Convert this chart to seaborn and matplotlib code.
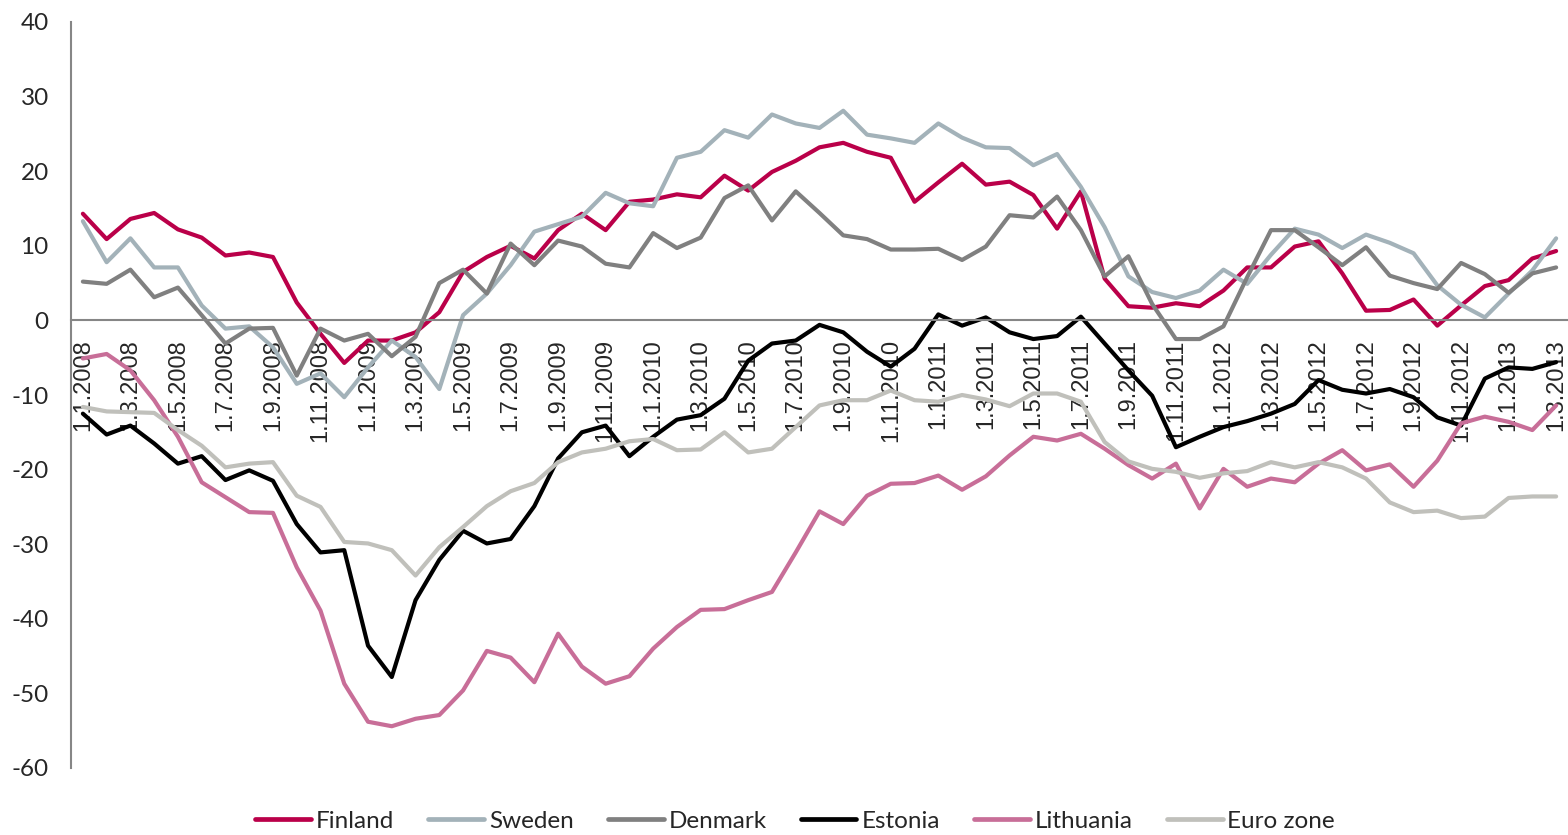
import pandas as pd
import matplotlib.pyplot as plt
from matplotlib.lines import Line2D
from matplotlib.ticker import FixedLocator
import seaborn as sns

# monthly survey balance, 1.1.2008 - 1.3.2013
months = [f"1.{d.month}.{d.year}"
          for d in pd.date_range('2008-01-01', '2013-03-01', freq='MS')]

finland = [14.3, 10.9, 13.6, 14.4, 12.2, 11.1, 8.7, 9.1, 8.5, 2.4,
           -1.8, -5.7, -2.7, -2.7, -1.6, 1.1, 6.5, 8.5, 10.0, 8.3,
           12.1, 14.3, 12.1, 15.9, 16.2, 16.9, 16.5, 19.4, 17.4, 19.9,
           21.4, 23.2, 23.8, 22.6, 21.8, 15.9, 18.5, 21.0, 18.2, 18.6,
           16.8, 12.3, 17.3, 5.6, 1.9, 1.7, 2.3, 1.9, 4.0, 7.1,
           7.1, 9.9, 10.6, 6.3, 1.3, 1.4, 2.8, -0.7, 2.0, 4.6,
           5.4, 8.3, 9.3]
sweden = [13.3, 7.8, 11.0, 7.1, 7.1, 2.0, -1.1, -0.8, -3.6, -8.5,
          -7.1, -10.3, -6.3, -2.7, -4.9, -9.2, 0.7, 3.6, 7.4, 11.9,
          12.9, 13.9, 17.1, 15.7, 15.3, 21.8, 22.6, 25.5, 24.5, 27.6,
          26.4, 25.8, 28.1, 24.9, 24.4, 23.8, 26.4, 24.5, 23.2, 23.1,
          20.8, 22.3, 17.9, 12.5, 5.9, 3.8, 3.0, 4.0, 6.8, 4.9,
          8.8, 12.3, 11.5, 9.7, 11.5, 10.4, 9.0, 4.7, 2.1, 0.4,
          3.6, 6.7, 11.0]
denmark = [5.2, 4.9, 6.8, 3.1, 4.4, 0.7, -3.1, -1.1, -1.0, -7.4,
           -1.1, -2.7, -1.8, -4.8, -2.2, 5.0, 6.8, 3.6, 10.3, 7.4,
           10.7, 9.9, 7.6, 7.1, 11.7, 9.7, 11.1, 16.4, 18.1, 13.4,
           17.3, 14.4, 11.4, 10.9, 9.5, 9.5, 9.6, 8.1, 9.9, 14.1,
           13.8, 16.6, 12.1, 5.9, 8.6, 2.2, -2.5, -2.5, -0.8, 5.8,
           12.1, 12.1, 9.8, 7.4, 9.8, 6.0, 5.0, 4.2, 7.7, 6.2,
           3.7, 6.3, 7.1]
estonia = [-12.5, -15.3, -14.1, -16.5, -19.2, -18.2, -21.4, -20.1, -21.5, -27.3,
           -31.1, -30.8, -43.6, -47.8, -37.5, -32.1, -28.2, -29.9, -29.3, -24.9,
           -18.5, -15.0, -14.1, -18.2, -15.6, -13.3, -12.7, -10.5, -5.4, -3.1,
           -2.7, -0.6, -1.6, -4.2, -6.2, -3.8, 0.8, -0.7, 0.4, -1.6,
           -2.5, -2.1, 0.5, -3.1, -6.7, -10.1, -17.0, -15.6, -14.3, -13.5,
           -12.5, -11.2, -8.0, -9.3, -9.8, -9.2, -10.3, -13.0, -14.1, -7.8,
           -6.3, -6.5, -5.6]
lithuania = [-5.1, -4.5, -6.7, -10.7, -15.6, -21.7, -23.7, -25.7, -25.8, -33.1,
             -38.9, -48.7, -53.8, -54.4, -53.4, -52.9, -49.6, -44.3, -45.2, -48.5,
             -42.0, -46.4, -48.7, -47.7, -44.0, -41.1, -38.8, -38.7, -37.5, -36.4,
             -31.1, -25.6, -27.3, -23.5, -21.9, -21.8, -20.8, -22.7, -20.9, -18.1,
             -15.6, -16.1, -15.2, -17.2, -19.4, -21.2, -19.2, -25.2, -19.9, -22.3,
             -21.2, -21.7, -19.2, -17.4, -20.1, -19.3, -22.3, -18.8, -13.8, -12.9,
             -13.6, -14.7, -11.4]
eurozone = [-11.6, -12.2, -12.3, -12.4, -14.7, -16.8, -19.7, -19.2, -19.0, -23.5,
            -25.0, -29.7, -29.9, -30.8, -34.2, -30.4, -27.7, -24.9, -22.9, -21.8,
            -19.0, -17.7, -17.2, -16.2, -15.9, -17.4, -17.3, -15.0, -17.7, -17.2,
            -14.3, -11.4, -10.7, -10.7, -9.4, -10.7, -10.9, -10.0, -10.6, -11.5,
            -9.8, -9.8, -10.9, -16.3, -18.9, -19.9, -20.3, -21.1, -20.5, -20.2,
            -19.0, -19.7, -19.0, -19.7, -21.2, -24.4, -25.7, -25.5, -26.5, -26.3,
            -23.8, -23.6, -23.6]

series = ['Finland', 'Sweden', 'Denmark', 'Estonia', 'Lithuania', 'Euro zone']
colors = ['#BA0049', '#A3B2B9', '#808080', '#000000', '#C86E98', '#C0C0BB']
values = [finland, sweden, denmark, estonia, lithuania, eurozone]

df = pd.concat([pd.DataFrame({'t': range(len(months)), 'value': v, 'series': s})
                for s, v in zip(series, values)], ignore_index=True)

sns.set_style('white')
plt.rcParams['font.family'] = ['Lato', 'DejaVu Sans']
plt.rcParams['axes.unicode_minus'] = False

fig = plt.figure(figsize=(15.68, 8.35), dpi=100)
ax = fig.add_axes([71 / 1568, 1 - 768 / 835, 1497 / 1568, 746 / 835])

sns.lineplot(data=df, x='t', y='value', hue='series', hue_order=series,
             palette=dict(zip(series, colors)), linewidth=3, legend=False, ax=ax)

ax.set_xlim(-0.5, len(months) - 0.5)
ax.set_ylim(-60, 40)
ax.set_yticks(range(-60, 41, 10))
ax.set_xlabel('')
ax.set_ylabel('')

for side in ['top', 'right']:
    ax.spines[side].set_visible(False)
ax.spines['left'].set_color('#868686')
ax.spines['left'].set_linewidth(1.5)
ax.spines['bottom'].set_position(('data', 0))
ax.spines['bottom'].set_color('#868686')
ax.spines['bottom'].set_linewidth(1.5)

# category labels every second month, tick marks between categories
ax.set_xticks(range(0, len(months), 2))
ax.set_xticklabels(months[::2], rotation=90, family=['Liberation Sans', 'DejaVu Sans'],
                   fontsize=17)
ax.xaxis.set_minor_locator(FixedLocator([i + 1.5 for i in range(0, len(months) - 2, 2)]))
ax.tick_params(axis='x', which='major', length=0, pad=13.5)
ax.tick_params(axis='x', which='minor', direction='out', length=6,
               width=1.5, color='#868686')
ax.tick_params(axis='y', direction='out', length=6, width=1.5, color='#868686',
               labelsize=17.5, pad=10)

handles = [Line2D([], [], color=c, lw=3.4) for c in colors]
fig.legend(handles, series, loc='center', bbox_to_anchor=(795 / 1568, 14 / 835),
           ncol=6, frameon=False, fontsize=17.5, handlelength=2.3,
           handletextpad=0.2, columnspacing=1.4)

fig.savefig('out.png', dpi=100)
